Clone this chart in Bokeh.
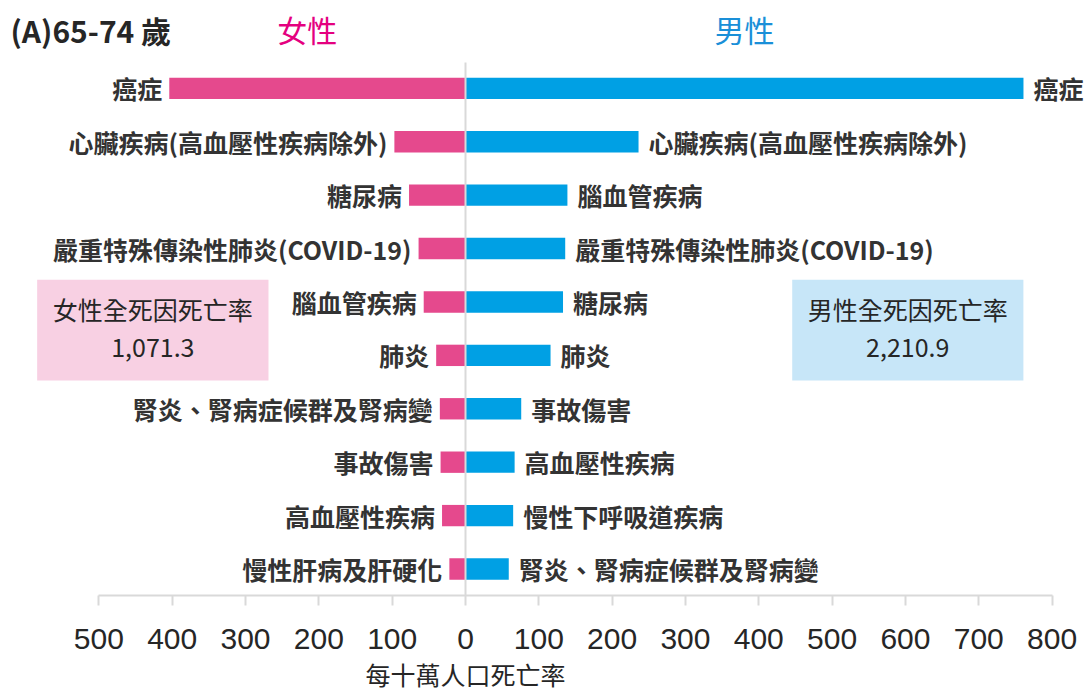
from bokeh.plotting import figure
from bokeh.models import Range1d, FixedTicker, ColumnDataSource, Label, Title
from bokeh.core.properties import value
from bokeh.embed import file_html
from bokeh.resources import INLINE

# ---- data ----
title_text = "(A)65-74 歲"
female_title = "女性"
male_title = "男性"
axis_title = "每十萬人口死亡率"

female_causes = ["癌症", "心臟疾病(高血壓性疾病除外)", "糖尿病", "嚴重特殊傳染性肺炎(COVID-19)",
                 "腦血管疾病", "肺炎", "腎炎、腎病症候群及腎病變", "事故傷害", "高血壓性疾病",
                 "慢性肝病及肝硬化"]
female_rates = [404, 97, 77, 64, 57, 40, 35, 34, 32, 22]

male_causes = ["癌症", "心臟疾病(高血壓性疾病除外)", "腦血管疾病", "嚴重特殊傳染性肺炎(COVID-19)",
               "糖尿病", "肺炎", "事故傷害", "高血壓性疾病", "慢性下呼吸道疾病",
               "腎炎、腎病症候群及腎病變"]
male_rates = [761, 236, 139, 136, 133, 116, 76, 67, 65, 59]

female_total_label = "女性全死因死亡率"
female_total = "1,071.3"
male_total_label = "男性全死因死亡率"
male_total = "2,210.9"

tick_values = [-500, -400, -300, -200, -100, 0, 100, 200, 300, 400, 500, 600, 700, 800]
tick_labels = ["500", "400", "300", "200", "100", "0", "100", "200", "300", "400", "500", "600", "700", "800"]

# ---- style ----
PINK = "#E5498D"
BLUE = "#00A0E4"
PINK_T = "#E4007F"
BLUE_T = "#1A8FD8"
PINK_BOX = "#F8D0E3"
BLUE_BOX = "#C7E6F8"
TXT = "#333333"
GRID = "#D9D9D9"
CJK = "Noto Sans CJK TC"

W, H = 1085, 695
p = figure(width=W, height=H, output_backend="svg", toolbar_location=None,
           x_range=Range1d(-634.2, 845.6), y_range=Range1d(9.496, -1.644),
           min_border_left=0, min_border_right=0, min_border_top=0, min_border_bottom=100)
p.outline_line_color = None
p.background_fill_color = "white"
p.border_fill_color = "white"
p.xgrid.visible = False
p.ygrid.visible = False
p.yaxis.visible = False

ax = p.xaxis[0]
ax.bounds = (-500, 800)
ax.ticker = FixedTicker(ticks=tick_values, minor_ticks=[])
ax.major_label_overrides = {v: t for v, t in zip(tick_values, tick_labels)}
ax.axis_line_color = GRID
ax.axis_line_width = 2
ax.major_tick_line_color = GRID
ax.major_tick_line_width = 2
ax.major_tick_out = 10
ax.major_tick_in = 0
ax.minor_tick_line_color = None
ax.major_label_text_font = "Liberation Sans"
ax.major_label_text_font_size = "30px"
ax.major_label_text_color = "#262626"
ax.major_label_standoff = 23

# axis title, placed below the axis and centred on zero
p.add_layout(Title(text=axis_title, align="left", offset=365, standoff=4,
                   text_font=CJK, text_font_size="25px", text_font_style="normal",
                   text_color="#262626"), "below")

idx = list(range(len(female_causes)))
fsrc = ColumnDataSource(dict(y=idx, left=[-v for v in female_rates], cause=female_causes))
msrc = ColumnDataSource(dict(y=idx, right=male_rates, cause=male_causes))

p.hbar(y="y", left="left", right=0, height=0.4, source=fsrc, fill_color=PINK, line_color=None)
p.hbar(y="y", left=0, right="right", height=0.4, source=msrc, fill_color=BLUE, line_color=None)

p.segment(x0=[0], y0=[-0.483], x1=[0], y1=[9.496], line_color=GRID, line_width=2)

p.text(x="left", y="y", text="cause", source=fsrc, x_offset=-7, text_align="right",
       text_baseline="middle", text_font=value(CJK), text_font_size="25px",
       text_font_style="bold", text_color=TXT)
p.text(x="right", y="y", text="cause", source=msrc, x_offset=10, text_align="left",
       text_baseline="middle", text_font=value(CJK), text_font_size="25px",
       text_font_style="bold", text_color=TXT)

# total boxes
p.quad(left=[-584.2, 445.6], right=[-268.7, 760.9], top=[3.585, 3.585], bottom=[5.471, 5.471],
       fill_color=[PINK_BOX, BLUE_BOX], line_color=None)

def lab(x, y, t, size, color, align="center", style="normal", font=CJK):
    p.add_layout(Label(x=x, y=y, text=t, text_align=align, text_baseline="middle",
                       text_font=font, text_font_size=size, text_color=color,
                       text_font_style=style))

lab(-426.4, 4.123, female_total_label, "25px", "#262626")
lab(-426.4, 4.862, female_total, "25px", "#262626")
lab(603.1, 4.123, male_total_label, "25px", "#262626")
lab(603.1, 4.862, male_total, "25px", "#262626")

lab(-620.6, -1.101, title_text, "30px", "#262626", align="left", style="bold")
lab(-215.9, -1.112, female_title, "30px", PINK_T)
lab(380.5, -1.112, male_title, "30px", BLUE_T)

open("out.html", "w").write(file_html(p, INLINE))
